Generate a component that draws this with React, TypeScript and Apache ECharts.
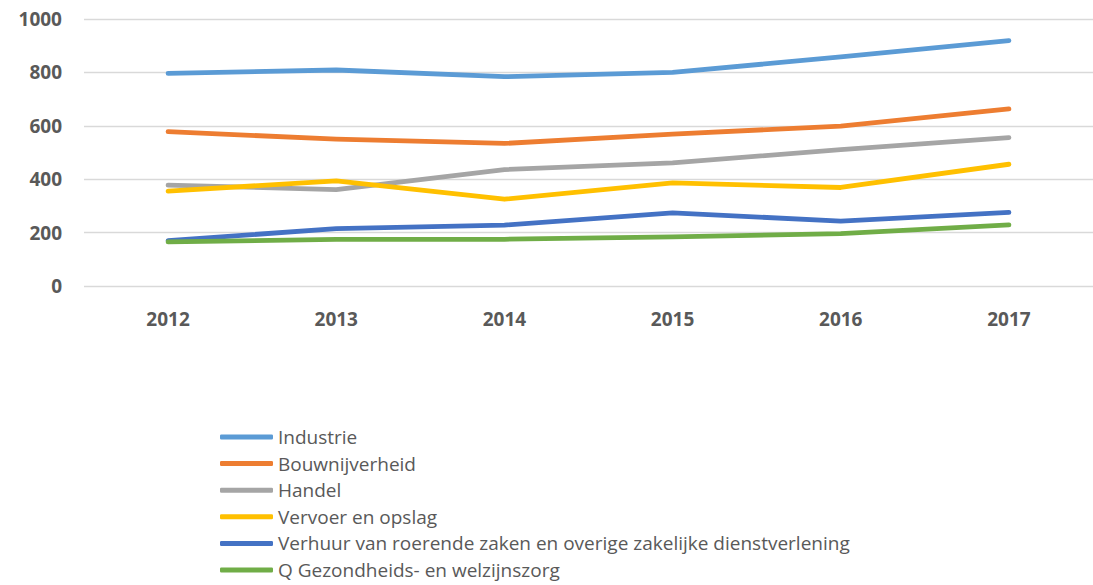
import React, { useEffect, useRef } from "react";
import * as echarts from "echarts";

const categories = ["2012", "2013", "2014", "2015", "2016", "2017"];
const seriesNames = [
  "Industrie",
  "Bouwnijverheid",
  "Handel",
  "Vervoer en opslag",
  "Verhuur van roerende zaken en overige zakelijke dienstverlening",
  "Q Gezondheids- en welzijnszorg",
];
const industrie = [796, 809, 784, 800, 858, 919];
const bouwnijverheid = [578, 550, 534, 569, 599, 663];
const handel = [378, 361, 436, 461, 511, 556];
const vervoer = [355, 394, 325, 386, 369, 456];
const verhuur = [170, 215, 228, 274, 243, 276];
const zorg = [165, 175, 175, 184, 196, 229];
const colors = ["#5B9BD5", "#ED7D31", "#A5A5A5", "#FFC000", "#4472C4", "#70AD47"];
const yTicks = { min: 0, max: 1000, interval: 200 };

export default function App() {
  const ref = useRef<HTMLDivElement>(null);
  useEffect(() => {
    document.body.style.margin = "0";
    const chart = echarts.init(ref.current!, null, { renderer: "svg" });
    const allData = [industrie, bouwnijverheid, handel, vervoer, verhuur, zorg];
    chart.setOption({
      animation: false,
      color: colors,
      grid: { left: 84, top: 19, width: 1012, height: 267, containLabel: false },
      xAxis: {
        type: "category",
        data: categories,
        boundaryGap: true,
        axisLine: { show: false },
        axisTick: { show: false },
        axisLabel: {
          color: "#595959",
          fontWeight: "bold",
          fontSize: 19,
          fontFamily: "Open Sans",
          margin: 23,
        },
      },
      yAxis: {
        type: "value",
        min: yTicks.min,
        max: yTicks.max,
        interval: yTicks.interval,
        axisLine: { show: false },
        axisTick: { show: false },
        splitLine: { lineStyle: { color: "#D9D9D9", width: 1.3 } },
        axisLabel: {
          color: "#595959",
          fontWeight: "bold",
          fontSize: 19,
          fontFamily: "Open Sans",
          margin: 22,
          formatter: (v: number) => String(v),
        },
      },
      legend: {
        orient: "vertical",
        left: 220,
        top: 426,
        height: 160,
        padding: 0,
        itemWidth: 53,
        itemHeight: 5,
        itemGap: 4.6,
        icon: "roundRect",
        textStyle: {
          color: "#595959",
          fontSize: 19,
          fontFamily: "Open Sans",
          lineHeight: 22,
        },
        data: seriesNames,
      },
      series: seriesNames.map((name, i) => ({
        name,
        type: "line",
        data: allData[i],
        symbol: "none",
        lineStyle: { width: 4.8, cap: "round", join: "round" },
      })),
    });
    return () => chart.dispose();
  }, []);
  return <div ref={ref} style={{ width: 1093, height: 585 }} />;
}
